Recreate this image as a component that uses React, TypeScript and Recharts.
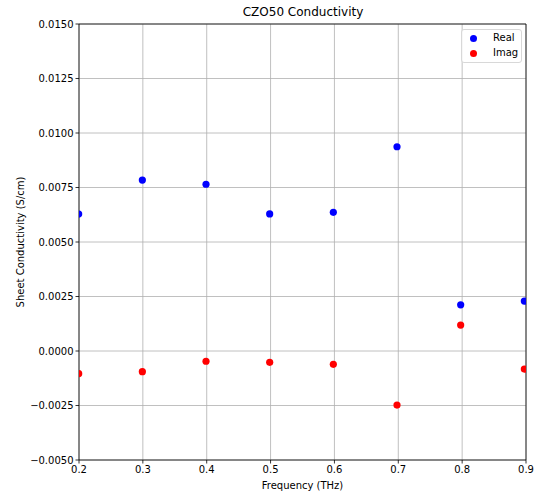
import React from 'react';
import { ScatterChart, Scatter, XAxis, YAxis, CartesianGrid, ReferenceArea } from 'recharts';

const frequencies = [0.1995, 0.2992, 0.3989, 0.4986, 0.5983, 0.698, 0.7977, 0.8974];
const realValues = [0.00628, 0.00784, 0.00765, 0.00629, 0.00636, 0.00937, 0.00212, 0.00229];
const imagValues = [-0.00104, -0.00095, -0.00047, -0.00052, -0.00061, -0.00248, 0.00119, -0.00083];
const xTicks = [0.2, 0.3, 0.4, 0.5, 0.6, 0.7, 0.8, 0.9];
const yTicks = [-0.005, -0.0025, 0, 0.0025, 0.005, 0.0075, 0.01, 0.0125, 0.015];

const realData = frequencies.map((f, i) => ({ x: f, y: realValues[i] }));
const imagData = frequencies.map((f, i) => ({ x: f, y: imagValues[i] }));

const FONT = '"DejaVu Sans", sans-serif';

const fmtY = (v: number) => (v < 0 ? '\u2212' : '') + Math.abs(v).toFixed(4);
const fmtX = (v: number) => v.toFixed(1);

const dot = (color: string) => (props: any) => (
  <circle cx={props.cx} cy={props.cy} r={3.6} fill={color} stroke="none" />
);

export default function App() {
  return (
    <div style={{ position: 'absolute', left: 0, top: 0, width: 535, height: 495, background: '#fff', fontFamily: FONT }}>
      <div style={{ position: 'absolute', left: 80, width: 446, top: 5, textAlign: 'center', fontSize: 12, color: '#000', fontFamily: FONT }}>
        CZO50 Conductivity
      </div>
      <ScatterChart width={535} height={495} margin={{ top: 24, right: 9, bottom: 5, left: 9 }}>
        <CartesianGrid stroke="#b0b0b0" strokeWidth={0.8} horizontal vertical />
        <XAxis
          type="number"
          dataKey="x"
          domain={[0.2, 0.9]}
          ticks={xTicks}
          allowDataOverflow
          tickFormatter={fmtX}
          height={30}
          axisLine={false}
          tickLine={{ stroke: '#000', strokeWidth: 0.8 }}
          tickSize={3.5}
          tick={{ fontSize: 10, fill: '#000', fontFamily: FONT }}
          label={{ value: 'Frequency (THz)', position: 'insideBottom', offset: 1, fontSize: 10, fill: '#000', fontFamily: FONT }}
        />
        <YAxis
          type="number"
          dataKey="y"
          domain={[-0.005, 0.015]}
          ticks={yTicks}
          allowDataOverflow
          tickFormatter={fmtY}
          width={70}
          axisLine={false}
          tickLine={{ stroke: '#000', strokeWidth: 0.8 }}
          tickSize={3.5}
          tick={{ fontSize: 10, fill: '#000', fontFamily: FONT }}
          label={{ value: 'Sheet Conductivity (S/cm)', angle: -90, position: 'insideLeft', offset: 11, fontSize: 10, fill: '#000', fontFamily: FONT, style: { textAnchor: 'middle' } }}
        />
        <ReferenceArea x1={0.2} x2={0.9} y1={-0.005} y2={0.015} fill="none" stroke="#000" strokeWidth={0.8} ifOverflow="visible" />
        <Scatter name="Real" data={realData} fill="#0000ff" shape={dot('#0000ff')} isAnimationActive={false} />
        <Scatter name="Imag" data={imagData} fill="#ff0000" shape={dot('#ff0000')} isAnimationActive={false} />
      </ScatterChart>
      <div
        style={{
          position: 'absolute',
          left: 461,
          top: 29,
          width: 59,
          height: 32,
          border: '1px solid #d8d8d8',
          borderRadius: 3,
          background: 'rgba(255,255,255,0.8)',
          fontSize: 10,
          fontFamily: FONT,
          color: '#000',
        }}
      >
        <div style={{ position: 'absolute', left: 8, top: 5, width: 7, height: 7, borderRadius: '50%', background: '#0000ff' }} />
        <div style={{ position: 'absolute', left: 31, top: 2, lineHeight: '12px' }}>Real</div>
        <div style={{ position: 'absolute', left: 8, top: 20, width: 7, height: 7, borderRadius: '50%', background: '#ff0000' }} />
        <div style={{ position: 'absolute', left: 31, top: 17, lineHeight: '12px' }}>Imag</div>
      </div>
    </div>
  );
}
